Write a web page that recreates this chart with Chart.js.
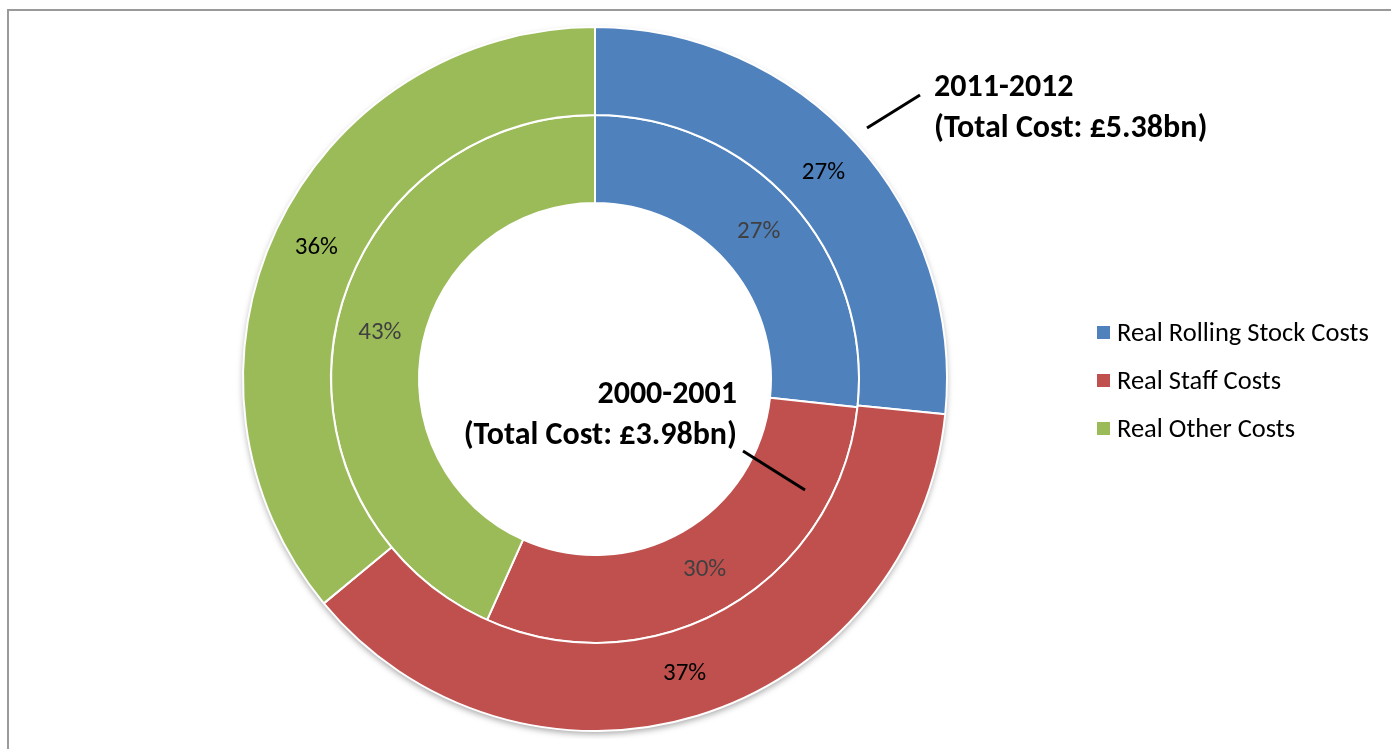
<!DOCTYPE html>
<html>
<head>
<meta charset="utf-8">
<script src="https://cdn.jsdelivr.net/npm/chart.js@4.4.1/dist/chart.umd.min.js"></script>
<style>
  html, body { margin:0; padding:0; background:#fff; overflow:hidden; }
  body { width:1391px; height:749px; position:relative; font-family: Carlito, Lato, "Open Sans", sans-serif; }
  .frame { position:absolute; left:7px; top:9px; width:1420px; height:800px; border:2px solid #9a9a9a; box-sizing:border-box; }
  .pie { position:absolute; left:235px; top:19px; width:720px; height:720px; }
  .note { position:absolute; font-weight:700; font-size:32px; line-height:41px; color:#000; white-space:nowrap; }
  .legend { position:absolute; left:1097px; top:308px; font-size:26.5px; color:#000; }
  .legend div { height:48px; display:flex; align-items:center; white-space:nowrap; }
  .legend span.box { width:13px; height:13px; margin-right:7px; display:inline-block; }
  svg.lines { position:absolute; left:0; top:0; }
</style>
</head>
<body>
<div class="frame"></div>
<div class="pie"><canvas id="chartCost" width="720" height="720"></canvas></div>
<svg class="lines" width="1391" height="749">
  <line x1="867" y1="128" x2="920" y2="95" stroke="#000" stroke-width="3"/>
  <line x1="743" y1="451" x2="805" y2="490" stroke="#000" stroke-width="3"/>
</svg>
<div class="note" id="noteOuter" style="left:934px;top:65px"></div>
<div class="note" id="noteInner" style="right:654px;top:372px;text-align:right"></div>
<div class="legend" id="legend"></div>

<script>
const categories = ['Real Rolling Stock Costs', 'Real Staff Costs', 'Real Other Costs'];
const colors = ['#4F81BD', '#C0504D', '#9BBB59'];
const periods = ['2011-2012', '2000-2001'];
const totals = ['£5.38bn', '£3.98bn'];
// share of total cost, %
const share2011 = [26.6, 37.4, 36.0];
const share2000 = [26.7, 30.0, 43.3];

// annotations + legend
const notes = [document.getElementById('noteOuter'), document.getElementById('noteInner')];
periods.forEach((p, i) => {
  notes[i].innerHTML = p + '<br>(Total Cost: ' + totals[i] + ')';
});
document.getElementById('legend').innerHTML = categories.map((c, i) =>
  `<div><span class="box" style="background:${colors[i]}"></span>${c}</div>`).join('');

// soft shadow under the outer ring
const ringShadow = {
  id: 'ringShadow',
  beforeDatasetsDraw(chart) {
    const arc = chart.getDatasetMeta(0).data[0];
    if (!arc) return;
    const { ctx } = chart;
    ctx.save();
    ctx.shadowColor = 'rgba(0,0,0,0.35)';
    ctx.shadowBlur = 6;
    ctx.shadowOffsetY = 3;
    ctx.fillStyle = '#fff';
    ctx.beginPath();
    ctx.arc(arc.x, arc.y, arc.outerRadius, 0, Math.PI * 2);
    ctx.fill();
    ctx.restore();
  }
};

// percentage labels at each slice centroid
const pctLabels = {
  id: 'pctLabels',
  afterDatasetsDraw(chart) {
    const { ctx } = chart;
    ctx.save();
    ctx.font = '25px Carlito, Lato, "Open Sans", sans-serif';
    ctx.textAlign = 'center';
    ctx.textBaseline = 'middle';
    chart.data.datasets.forEach((ds, di) => {
      const meta = chart.getDatasetMeta(di);
      ctx.fillStyle = di === 0 ? '#000' : '#404040';
      meta.data.forEach((el, i) => {
        const p = el.tooltipPosition();
        ctx.fillText(Math.round(ds.data[i]) + '%', p.x, p.y);
      });
    });
    ctx.restore();
  }
};

new Chart(document.getElementById('chartCost'), {
  type: 'doughnut',
  data: {
    labels: categories,
    datasets: [
      { label: periods[0], data: share2011, backgroundColor: colors, borderColor: '#fff', borderWidth: 2 },
      { label: periods[1], data: share2000, backgroundColor: colors, borderColor: '#fff', borderWidth: 2 }
    ]
  },
  options: {
    responsive: false,
    animation: false,
    radius: 352,
    cutout: '50%',
    plugins: { legend: { display: false }, tooltip: { enabled: false } }
  },
  plugins: [ringShadow, pctLabels]
});
</script>
</body>
</html>
